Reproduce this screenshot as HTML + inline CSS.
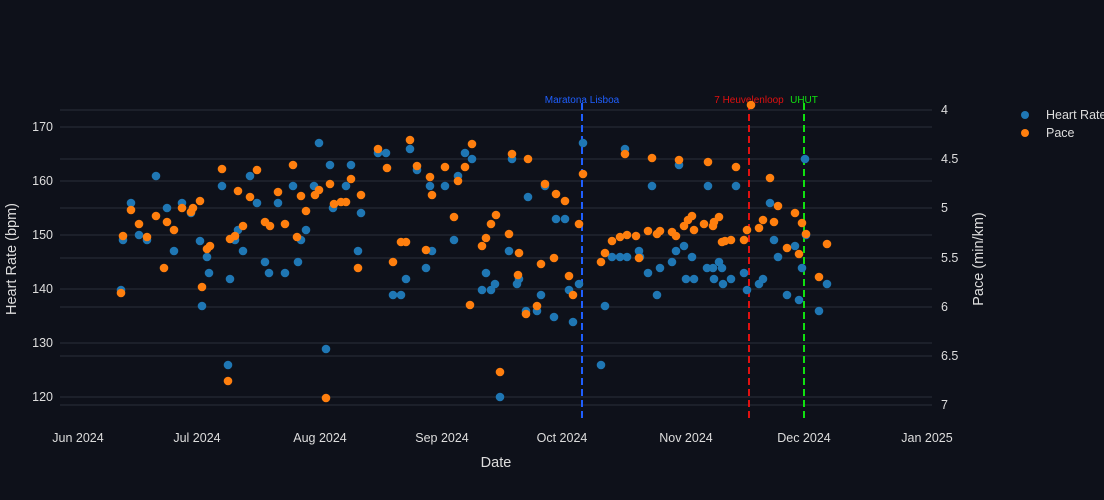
<!DOCTYPE html>
<html><head><meta charset="utf-8"><style>
html,body{margin:0;padding:0;background:#0e111a;width:1104px;height:500px;overflow:hidden}
svg{display:block;font-family:"Liberation Sans",sans-serif}
</style></head><body>
<svg width="1104" height="500" viewBox="0 0 1104 500">
<rect width="1104" height="500" fill="#0e111a"/>
<g stroke="#2b303b" stroke-width="1">
<line x1="60" x2="932" y1="127" y2="127"/><line x1="60" x2="932" y1="181" y2="181"/><line x1="60" x2="932" y1="235" y2="235"/><line x1="60" x2="932" y1="289" y2="289"/><line x1="60" x2="932" y1="343" y2="343"/><line x1="60" x2="932" y1="397" y2="397"/>
<line x1="60" x2="932" y1="110" y2="110"/><line x1="60" x2="932" y1="159" y2="159"/><line x1="60" x2="932" y1="208" y2="208"/><line x1="60" x2="932" y1="258" y2="258"/><line x1="60" x2="932" y1="307" y2="307"/><line x1="60" x2="932" y1="356" y2="356"/><line x1="60" x2="932" y1="405" y2="405"/>
</g>
<g fill="#ddd" font-size="12.5" text-anchor="end">
<text x="53" y="131">170</text><text x="53" y="185">160</text><text x="53" y="239">150</text><text x="53" y="293">140</text><text x="53" y="347">130</text><text x="53" y="401">120</text>
</g>
<g fill="#ddd" font-size="12.5">
<text x="941" y="114">4</text><text x="941" y="163">4.5</text><text x="941" y="212">5</text><text x="941" y="262">5.5</text><text x="941" y="311">6</text><text x="941" y="360">6.5</text><text x="941" y="409">7</text>
</g>
<g fill="#ddd" font-size="12.5" text-anchor="middle">
<text x="78" y="442">Jun 2024</text><text x="197" y="442">Jul 2024</text><text x="320" y="442">Aug 2024</text><text x="442" y="442">Sep 2024</text><text x="562" y="442">Oct 2024</text><text x="686" y="442">Nov 2024</text><text x="804" y="442">Dec 2024</text><text x="927" y="442">Jan 2025</text>
</g>
<text x="496" y="467" fill="#ddd" font-size="14.5" text-anchor="middle">Date</text>
<text transform="translate(16,259) rotate(-90)" fill="#ddd" font-size="14.5" text-anchor="middle">Heart Rate (bpm)</text>
<text transform="translate(983,259) rotate(-90)" fill="#ddd" font-size="14.5" text-anchor="middle">Pace (min/km)</text>
<g stroke-width="2" stroke-dasharray="7,4">
<line x1="582" x2="582" y1="103" y2="420" stroke="#1f5fff"/>
<line x1="749" x2="749" y1="103" y2="420" stroke="#e01010"/>
<line x1="804" x2="804" y1="103" y2="420" stroke="#10e010"/>
</g>
<text x="582" y="103" fill="#1f5fff" font-size="10" text-anchor="middle">Maratona Lisboa</text>
<text x="749" y="103" fill="#e01010" font-size="10" text-anchor="middle">7 Heuvelenloop</text>
<text x="804" y="103" fill="#10e010" font-size="10" text-anchor="middle">UHUT</text>
<g fill="#1f77b4" id="hr"></g>
<g fill="#ff7f0e" id="pc"></g>
<circle cx="1025" cy="115" r="4" fill="#1f77b4"/><text x="1046" y="119" fill="#ddd" font-size="12.5">Heart Rate</text>
<circle cx="1025" cy="133" r="4" fill="#ff7f0e"/><text x="1046" y="137" fill="#ddd" font-size="12.5">Pace</text>
</svg>
<script>
var hr=[[121,290],[123,240],[131,203],[139,235],[147,240],[156,176],[167,208],[174,251],[182,203],[191,213],[200,241],[202,306],[207,257],[209,273],[222,186],[228,365],[230,279],[235,240],[238,230],[243,251],[250,176],[257,203],[265,262],[269,273],[278,203],[285,273],[293,186],[298,262],[301,240],[306,230],[314,186],[319,143],[326,349],[330,165],[333,208],[346,186],[351,165],[358,251],[361,213],[378,153],[386,153],[393,295],[401,295],[406,279],[410,149],[417,170],[426,268],[430,186],[432,251],[445,186],[454,240],[458,176],[465,153],[472,159],[482,290],[486,273],[491,290],[495,284],[500,397],[509,251],[512,159],[517,284],[519,279],[526,311],[528,197],[537,311],[541,295],[545,186],[554,317],[556,219],[565,219],[569,290],[573,322],[579,284],[583,143],[601,365],[605,306],[612,257],[620,257],[625,149],[627,257],[639,251],[640,257],[648,273],[652,186],[657,295],[660,268],[672,262],[676,251],[679,165],[684,246],[686,279],[692,257],[694,279],[707,268],[708,186],[713,268],[714,279],[719,262],[722,268],[723,284],[731,279],[736,186],[744,273],[747,290],[759,284],[763,279],[770,203],[774,240],[778,257],[787,295],[795,246],[799,300],[802,268],[805,159],[806,235],[819,311],[827,284]];
var pc=[[121,293],[123,236],[131,210],[139,224],[147,237],[156,216],[164,268],[167,222],[174,230],[182,208],[191,212],[193,208],[200,201],[202,287],[207,249],[210,246],[222,169],[228,381],[230,239],[235,236],[238,191],[243,226],[250,197],[257,170],[265,222],[270,226],[278,192],[285,224],[293,165],[297,237],[301,196],[306,211],[315,195],[319,190],[326,398],[330,184],[334,204],[341,202],[346,202],[351,179],[358,268],[361,195],[378,149],[387,168],[393,262],[401,242],[406,242],[410,140],[417,166],[426,250],[430,177],[432,195],[445,167],[454,217],[458,181],[465,167],[470,305],[472,144],[482,246],[486,238],[491,224],[496,215],[500,372],[509,234],[512,154],[519,253],[518,275],[526,314],[528,159],[537,306],[541,264],[545,184],[554,258],[556,194],[565,201],[569,276],[573,295],[579,224],[583,174],[601,262],[605,253],[612,241],[620,237],[625,154],[627,235],[636,236],[639,258],[648,231],[652,158],[657,234],[660,231],[672,232],[676,236],[679,160],[684,226],[688,220],[692,216],[694,230],[704,224],[708,162],[713,226],[714,222],[719,217],[722,242],[725,241],[731,240],[736,167],[744,240],[747,230],[751,105],[759,228],[763,220],[770,178],[774,222],[778,206],[787,248],[795,213],[799,254],[802,223],[806,234],[819,277],[827,244]];
function put(id,a){var g=document.getElementById(id),s='';a.forEach(function(p){s+='<circle cx="'+p[0]+'" cy="'+p[1]+'" r="4.3"/>';});g.innerHTML=s;}
put('hr',hr);put('pc',pc);
</script>
</body></html>
